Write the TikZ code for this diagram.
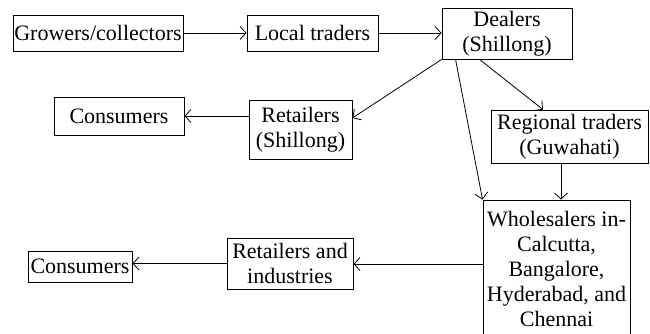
\documentclass[tikz,border=0pt]{standalone}
\usepackage{fontspec}
\setmainfont{Liberation Serif}
\usetikzlibrary{arrows.meta}
\begin{document}
\begin{tikzpicture}[x=1pt,y=-1pt,
  box/.style={draw,line width=0.9pt,inner sep=0pt,align=center,
    font=\fontsize{22}{25}\selectfont},
  arr/.style={line width=0.8pt,-{Straight Barb[length=6pt,width=13pt,line width=0.8pt]}}]
\useasboundingbox (0,0) rectangle (650,333);
\clip (0,0) rectangle (650,333);
\node[box,minimum width=170pt,minimum height=36pt] (grow) at (98,33) {Growers/collectors};
\node[box,minimum width=131pt,minimum height=36pt] (local) at (312.5,33) {Local traders};
\node[box,minimum width=130pt,minimum height=51pt] (dealers) at (507,33.5) {Dealers\\(Shillong)};
\node[box,minimum width=130pt,minimum height=38pt] (cons1) at (119,116) {Consumers};
\node[box,minimum width=103pt,minimum height=59pt] (retS) at (300.5,129.5) {Retailers\\(Shillong)};
\node[box,minimum width=157pt,minimum height=53pt] (reg) at (569.5,136.5) {Regional traders\\(Guwahati)};
\node[box,minimum width=147pt,minimum height=137pt] (whole) at (556.5,268.5) {Wholesalers in-\\Calcutta,\\Bangalore,\\Hyderabad, and\\Chennai};
\node[box,minimum width=126pt,minimum height=51pt] (retI) at (290,263.5) {Retailers and\\industries};
\node[box,minimum width=104pt,minimum height=31pt] (cons2) at (80,266.5) {Consumers};
\draw[arr] (grow.east) -- (local.west);
\draw[arr] (local.east) -- (local.east -| dealers.west);
\draw[arr] (dealers.south west) -- ([yshift=11.5pt]retS.east);
\draw[arr] ([xshift=14pt]dealers.south west) -- (whole.north west);
\draw[arr] ([xshift=38pt]dealers.south west) -- ([xshift=-26.5pt]reg.north);
\draw[arr] ([xshift=-8.5pt]reg.south) -- ([xshift=-8.5pt]reg.south |- whole.north);
\draw[arr] (cons1.east -| retS.west) -- (cons1.east);
\draw[arr] ([yshift=4.5pt]whole.west) -- ([yshift=4.5pt]whole.west -| retI.east);
\draw[arr] (retI.west) -- (retI.west -| cons2.east);
\end{tikzpicture}
\end{document}
